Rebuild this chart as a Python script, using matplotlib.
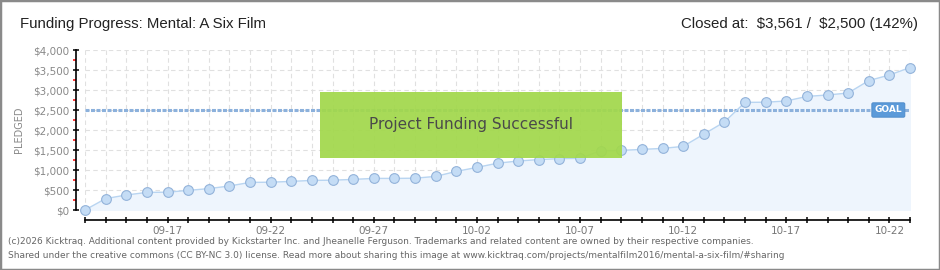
import matplotlib
matplotlib.use("Agg")
import matplotlib.pyplot as plt
import numpy as np
import pandas as pd
from matplotlib.patches import Rectangle
from matplotlib.ticker import MultipleLocator

# daily pledged totals
dates = pd.date_range("2016-09-13", "2016-10-23", freq="D")
pledged = [0, 285, 375, 440, 445, 490, 535, 600, 690, 695,
           715, 740, 745, 765, 790, 790, 795, 840, 965, 1065,
           1170, 1225, 1260, 1285, 1290, 1485, 1490, 1515, 1540, 1590,
           1895, 2200, 2690, 2695, 2725, 2840, 2875, 2925, 3235, 3375,
           3561]
goal = 2500
label_days = ["09-17", "09-22", "09-27", "10-02", "10-07", "10-12", "10-17", "10-22"]
yticks = list(range(0, 4001, 500))

W, H = 940, 270
fig = plt.figure(figsize=(W / 100, H / 100), dpi=100)
ax = fig.add_axes([85 / W, 1 - 210 / H, (910 - 85) / W, 160 / H])

x = np.arange(len(pledged))
ax.fill_between(x, pledged, 0, color="#eef5fd", zorder=1)
ax.plot(x, pledged, color="#b9d5f1", lw=1, marker="o", ms=7,
        mfc="#c4dcf5", mec="#93b3da", mew=0.8, zorder=4, clip_on=False)

ax.axhline(goal, color="#8cb1dc", lw=2.2, ls=(0, (1.3, 0.5)), zorder=3)
ax.text(38.95, goal, "GOAL", color="white", fontsize=6.5, fontweight="bold",
        ha="center", va="center", zorder=6,
        bbox=dict(boxstyle="round,pad=0.3,rounding_size=0.15", fc="#5b9ad9", ec="#4a88c8", lw=0.6))

# success banner
ax.add_patch(Rectangle((11.4, 1300), 14.65, 1650, fc="#a2d84b", ec="none", alpha=0.93, zorder=5))
ax.text(18.72, 2125, "Project Funding Successful", fontsize=11, color="#4a4a4a",
        ha="center", va="center", zorder=6)

ax.set_xlim(0, len(pledged) - 1)
ax.set_ylim(0, 4000)

labels = [d.strftime("%m-%d") for d in dates]
ax.set_xticks(x)
ax.set_xticklabels([l if l in label_days else "" for l in labels])
ax.set_yticks(yticks)
ax.set_yticklabels(["${:,}".format(v) for v in yticks])
ax.yaxis.set_minor_locator(MultipleLocator(250))

ax.grid(True, which="major", color="#e0e0e0", ls=(0, (4, 3)), lw=0.8)
ax.set_axisbelow(True)

for s in ["top", "right"]:
    ax.spines[s].set_visible(False)
ax.spines["left"].set_position(("outward", 6.5))
ax.spines["bottom"].set_position(("outward", 7.2))
ax.spines["left"].set_linewidth(1.2)
ax.spines["bottom"].set_linewidth(1.2)

ax.tick_params(axis="x", direction="inout", length=5, width=1.1, colors="black",
               labelcolor="#777777", labelsize=7.5, pad=2)
ax.tick_params(axis="y", which="major", direction="inout", length=4, width=1.1,
               labelcolor="#888888", labelsize=7.5, pad=3)
ax.tick_params(axis="y", which="minor", direction="out", length=2.2, width=1.1, color="red")

fig.text(19 / W, 1 - 130 / H, "PLEDGED", rotation=90, fontsize=7, color="#888888",
         ha="center", va="center")

fig.text(20 / W, 1 - 24 / H, "Funding Progress: Mental: A Six Film", fontsize=10.8,
         color="#222222", ha="left", va="center", family="Liberation Sans")
fig.text(918 / W, 1 - 24 / H, r"Closed at:  \$3,561 /  \$2,500 (142%)", fontsize=10.8,
         color="#222222", ha="right", va="center", family="Liberation Sans")

footer1 = ("(c)2026 Kicktraq. Additional content provided by Kickstarter Inc. and Jheanelle Ferguson. "
           "Trademarks and related content are owned by their respective companies.")
footer2 = ("Shared under the creative commons (CC BY-NC 3.0) license. Read more about sharing this image "
           "at www.kicktraq.com/projects/mentalfilm2016/mental-a-six-film/#sharing")
fig.text(8 / W, 1 - 242 / H, footer1, fontsize=6.5, color="#666666", ha="left", va="center")
fig.text(8 / W, 1 - 256 / H, footer2, fontsize=6.5, color="#666666", ha="left", va="center")

# outer frame
fig.patches.append(Rectangle((0, 0), 1, 1, transform=fig.transFigure, fill=False,
                             ec="#8a8a8a", lw=2.5))

fig.savefig("out.png", dpi=100)
